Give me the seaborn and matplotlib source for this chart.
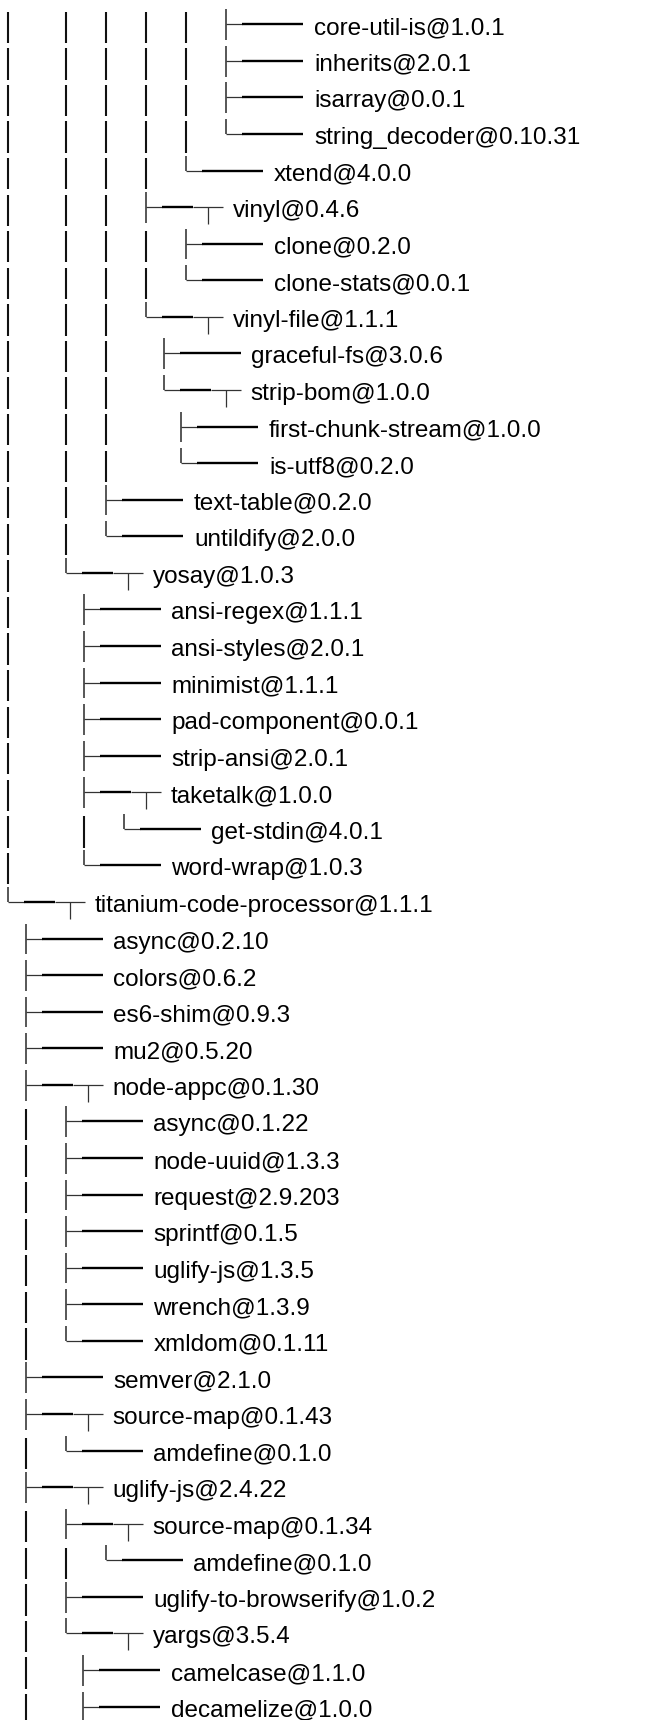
import matplotlib
matplotlib.use("Agg")
import matplotlib.pyplot as plt
from matplotlib import font_manager
import seaborn as sns

# ---- data: the visible part of an `npm ls` dependency tree ----
branches = [
    "│ │ │ │ │ ├──", "│ │ │ │ │ ├──", "│ │ │ │ │ ├──", "│ │ │ │ │ └──",
    "│ │ │ │ └──",
    "│ │ │ ├─┬", "│ │ │ │ ├──", "│ │ │ │ └──",
    "│ │ │ └─┬", "│ │ │   ├──", "│ │ │   └─┬", "│ │ │     ├──", "│ │ │     └──",
    "│ │ ├──", "│ │ └──",
    "│ └─┬",
    "│   ├──", "│   ├──", "│   ├──", "│   ├──", "│   ├──", "│   ├─┬", "│   │ └──", "│   └──",
    "└─┬",
    "  ├──", "  ├──", "  ├──", "  ├──", "  ├─┬",
    "  │ ├──", "  │ ├──", "  │ ├──", "  │ ├──", "  │ ├──", "  │ ├──", "  │ └──",
    "  ├──", "  ├─┬", "  │ └──",
    "  ├─┬", "  │ ├─┬", "  │ │ └──", "  │ ├──", "  │ └─┬", "  │   ├──", "  │   ├──",
]
packages = [
    "core-util-is@1.0.1", "inherits@2.0.1", "isarray@0.0.1", "string_decoder@0.10.31",
    "xtend@4.0.0",
    "vinyl@0.4.6", "clone@0.2.0", "clone-stats@0.0.1",
    "vinyl-file@1.1.1", "graceful-fs@3.0.6", "strip-bom@1.0.0", "first-chunk-stream@1.0.0", "is-utf8@0.2.0",
    "text-table@0.2.0", "untildify@2.0.0",
    "yosay@1.0.3",
    "ansi-regex@1.1.1", "ansi-styles@2.0.1", "minimist@1.1.1", "pad-component@0.0.1",
    "strip-ansi@2.0.1", "taketalk@1.0.0", "get-stdin@4.0.1", "word-wrap@1.0.3",
    "titanium-code-processor@1.1.1",
    "async@0.2.10", "colors@0.6.2", "es6-shim@0.9.3", "mu2@0.5.20", "node-appc@0.1.30",
    "async@0.1.22", "node-uuid@1.3.3", "request@2.9.203", "sprintf@0.1.5",
    "uglify-js@1.3.5", "wrench@1.3.9", "xmldom@0.1.11",
    "semver@2.1.0", "source-map@0.1.43", "amdefine@0.1.0",
    "uglify-js@2.4.22", "source-map@0.1.34", "amdefine@0.1.0", "uglify-to-browserify@1.0.2",
    "yargs@3.5.4", "camelcase@1.1.0", "decamelize@1.0.0",
]

# ---- layout constants (pixels) ----
W, H = 656, 1720
X0 = 8.0            # left edge of the first column
BAR_W_FIRST = 58.0  # width of a "│ " segment at the first level
BAR_W = 40.0        # width of a "│ " segment deeper down
SPACE_W = 17.5      # width of a "  " segment
Y0 = 24.3           # y of the first row's horizontal connector
PITCH = 36.57       # row pitch

sns.set_theme(style="white")

installed = {f.name for f in font_manager.fontManager.ttflist}
if "Liberation Sans Narrow" in installed:
    families = ["Liberation Sans Narrow", "Liberation Sans", "DejaVu Sans"]
    FS = 21
elif "DejaVu Sans Condensed" in installed:
    families = ["DejaVu Sans Condensed", "DejaVu Sans"]
    FS = 19
else:
    families = ["Liberation Sans", "DejaVu Sans"]
    FS = 17.5
plt.rcParams["font.family"] = families

fig = plt.figure(figsize=(W / 100, H / 100), dpi=100)
ax = fig.add_axes([0, 0, 1, 1])
ax.set_xlim(0, W)
ax.set_ylim(H, 0)
ax.axis("off")

bar_x, bar_y0, bar_y1 = [], [], []
conn_x, conn_y0, conn_y1 = [], [], []
thin_x0, thin_x1, thin_y = [], [], []
thick_x0, thick_x1, thick_y = [], [], []
tick_x, tick_y0, tick_y1 = [], [], []

for i, (br, name) in enumerate(zip(branches, packages)):
    yh = Y0 + i * PITCH
    prefix, conn = br[:-3], br[-3:]
    x = X0
    for j in range(0, len(prefix), 2):
        seg = prefix[j:j + 2]
        if seg.startswith("│"):
            bar_x.append(x); bar_y0.append(yh - 12.6); bar_y1.append(yh + 18.7)
            x += BAR_W_FIRST if j == 0 else BAR_W
        else:
            x += SPACE_W
    cx = x
    conn_x.append(cx)
    conn_y0.append(yh - 15.0)
    conn_y1.append(yh + 15.7 if conn[0] == "├" else yh)
    thin_x0.append(cx); thin_x1.append(cx + 16); thin_y.append(yh)
    if conn[2] == "┬":
        thick_x0.append(cx + 16); thick_x1.append(cx + 47); thick_y.append(yh)
        thin_x0.append(cx + 47); thin_x1.append(cx + 77); thin_y.append(yh)
        tick_x.append(cx + 62); tick_y0.append(yh); tick_y1.append(yh + 17)
        tx = cx + 87
    else:
        thick_x0.append(cx + 16); thick_x1.append(cx + 77); thick_y.append(yh)
        tx = cx + 88
    ax.text(tx, yh + 10.0, name, fontsize=FS, color="#000000",
            ha="left", va="baseline")

ax.vlines(bar_x, bar_y0, bar_y1, colors="#111111", linewidth=1.5)
ax.vlines(conn_x, conn_y0, conn_y1, colors="#3a3a3a", linewidth=1.2)
ax.hlines(thin_y, thin_x0, thin_x1, colors="#333333", linewidth=0.9)
ax.hlines(thick_y, thick_x0, thick_x1, colors="#000000", linewidth=1.7)
ax.vlines(tick_x, tick_y0, tick_y1, colors="#333333", linewidth=0.9)

fig.savefig("out.png", dpi=100, facecolor="white")
